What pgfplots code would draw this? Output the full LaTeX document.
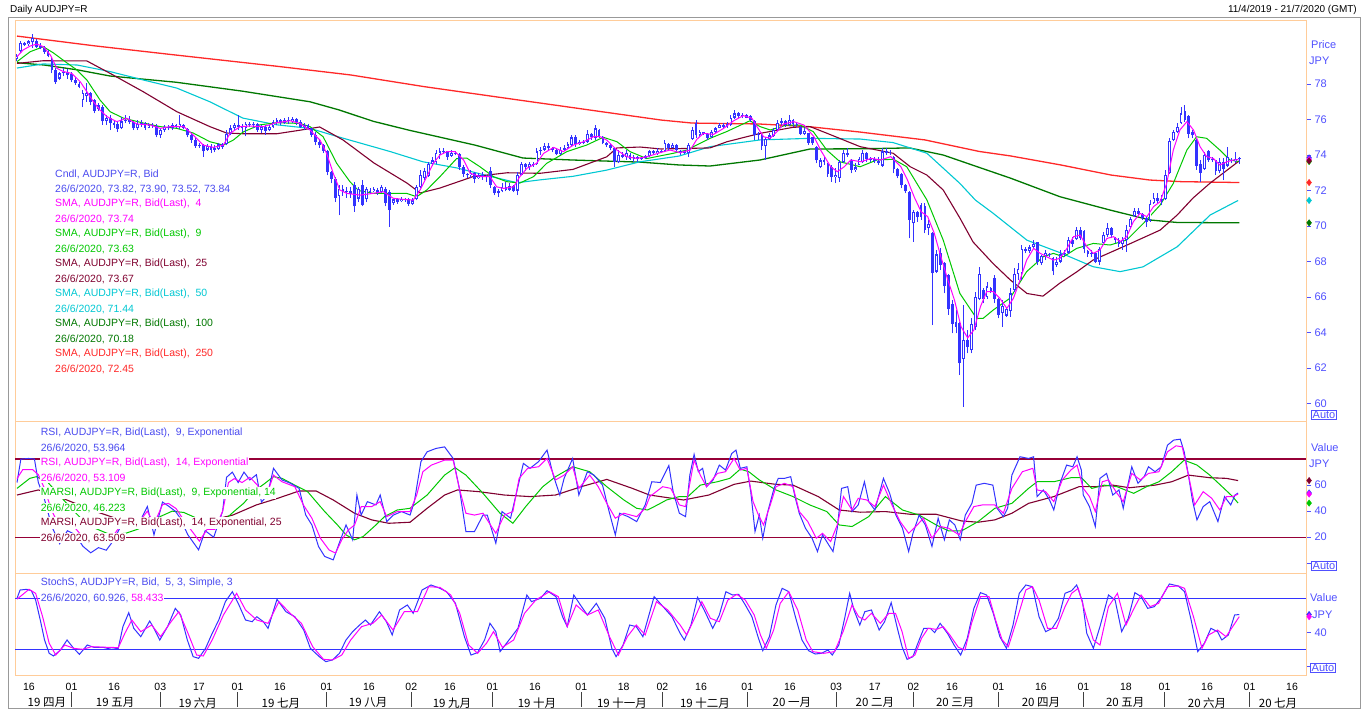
\documentclass[border=0pt]{standalone}
\usepackage{pgfplots}
\usepackage{pgfplotstable}
\pgfplotsset{compat=1.18}
\usepackage{fontspec}
\setmainfont{Liberation Sans}
\newfontfamily\cjk{Noto Sans CJK SC}
\definecolor{candle}{RGB}{51,51,255}
\definecolor{txtblue}{RGB}{75,75,240}
\definecolor{mag}{RGB}{255,0,255}
\definecolor{grn}{RGB}{0,200,0}
\definecolor{mar}{RGB}{128,0,48}
\definecolor{cyn}{RGB}{0,200,210}
\definecolor{dkg}{RGB}{0,120,0}
\definecolor{redd}{RGB}{255,40,40}
\definecolor{peach}{RGB}{255,204,153}
\definecolor{axblue}{RGB}{80,80,255}
\definecolor{rsiline}{RGB}{150,0,55}

\pgfplotstableread{
i o h l c
0 79.40 79.70 79.30 79.60
1 79.85 80.40 79.75 80.30
2 80.20 80.35 80.15 80.30
3 80.25 80.50 80.15 80.40
4 80.35 80.80 80.05 80.60
11 78.30 78.70 78.20 78.60
12 78.60 78.90 78.45 78.70
17 77.10 77.65 76.70 77.50
18 77.30 78.05 77.00 77.50
21 76.60 76.95 76.50 76.80
23 75.90 76.25 75.70 76.10
27 75.50 76.15 75.45 75.90
28 75.90 76.25 75.80 76.00
31 75.50 75.95 75.40 75.75
32 75.75 75.95 75.60 75.80
34 75.55 75.80 75.50 75.70
37 75.10 75.50 74.95 75.40
38 75.40 75.70 75.30 75.60
40 75.50 75.80 75.40 75.70
42 75.60 76.25 75.45 75.75
47 74.50 74.70 74.40 74.55
49 74.30 74.60 74.25 74.50
51 74.30 74.55 74.15 74.40
52 74.35 74.70 74.30 74.60
54 74.60 75.40 74.55 75.20
55 75.20 75.70 75.10 75.50
56 75.50 75.80 75.40 75.70
59 75.50 75.85 75.05 75.75
61 75.70 75.85 75.50 75.75
63 75.40 75.70 75.25 75.60
65 75.40 75.70 75.35 75.60
66 75.60 76.00 75.55 75.85
67 75.85 76.10 75.70 75.95
69 75.80 76.10 75.75 76.00
71 75.90 76.15 75.80 76.05
74 75.60 75.80 75.40 75.70
83 71.70 72.30 70.60 72.10
85 71.90 72.20 71.60 72.00
88 71.55 72.20 71.35 72.10
90 71.50 72.20 71.35 72.10
92 71.95 72.20 71.90 72.10
94 71.90 72.30 71.85 72.20
97 71.30 71.60 71.20 71.50
99 71.40 71.65 71.35 71.55
102 71.25 71.56 71.18 71.45
103 71.50 72.30 71.45 72.20
104 72.20 73.15 72.15 72.90
105 72.70 73.25 72.60 73.10
106 72.80 73.60 72.75 73.50
107 73.50 73.90 73.40 73.70
108 73.60 74.30 73.50 74.10
109 74.00 74.37 73.80 74.20
110 74.20 74.37 74.05 74.25
112 73.95 74.28 73.90 74.10
117 72.85 73.15 72.70 73.00
119 72.70 72.97 72.65 72.85
121 72.75 72.90 72.50 72.80
124 71.85 72.10 71.65 71.95
125 71.95 72.40 71.90 72.20
127 72.05 72.40 72.00 72.25
129 72.00 73.06 71.74 72.90
130 72.90 73.62 72.85 73.50
132 73.30 73.62 73.15 73.50
134 73.50 74.37 73.45 74.20
135 74.20 74.47 74.00 74.30
136 74.30 74.65 74.25 74.50
140 74.05 74.47 74.00 74.30
141 74.30 74.55 74.20 74.40
142 74.40 74.75 74.35 74.60
143 74.55 75.13 74.50 75.00
145 74.60 74.85 74.55 74.75
147 74.75 75.41 74.70 75.20
149 74.95 75.69 74.85 75.50
155 73.60 74.28 73.53 74.00
157 73.90 74.28 73.72 74.10
159 73.80 74.00 73.62 73.90
161 73.75 73.90 73.72 73.85
162 73.85 74.00 73.80 73.95
163 73.95 74.28 73.90 74.20
165 74.10 74.37 74.00 74.25
167 74.20 74.85 74.15 74.70
169 74.40 74.65 74.37 74.55
172 74.10 74.28 74.05 74.20
173 74.10 74.66 73.91 74.55
174 74.90 75.60 74.85 75.40
176 75.10 75.41 75.03 75.30
179 75.00 75.41 74.95 75.30
180 75.30 75.60 75.22 75.50
181 75.55 75.78 75.50 75.70
183 75.60 75.87 75.55 75.75
184 75.70 76.25 75.65 76.10
185 76.10 76.54 76.05 76.35
187 76.20 76.35 76.06 76.25
191 75.10 75.30 74.85 75.20
193 74.50 75.03 73.72 74.90
194 74.90 75.22 74.85 75.10
195 75.05 75.50 75.03 75.40
196 75.40 75.97 75.35 75.80
197 75.80 76.06 75.70 75.90
199 75.70 76.25 75.65 76.00
203 75.20 75.50 75.12 75.35
207 73.30 73.81 73.25 73.70
211 72.75 73.25 72.40 72.90
212 72.70 73.72 72.50 73.60
213 73.60 74.28 73.55 74.10
216 73.15 73.53 73.06 73.30
217 73.45 73.91 73.44 73.80
218 73.60 74.28 73.53 74.10
223 73.40 74.37 73.34 74.20
225 74.10 74.28 74.00 74.15
231 70.15 70.90 69.12 70.81
235 69.90 70.34 69.49 70.10
237 67.43 68.65 67.35 68.40
244 62.50 65.55 59.82 63.60
246 63.00 64.80 62.83 64.50
247 64.30 66.30 64.14 66.00
248 65.90 67.71 65.83 67.30
250 66.00 66.86 65.90 66.60
254 65.10 65.83 64.33 65.50
255 64.95 65.46 64.89 65.35
256 65.20 66.49 64.89 66.20
257 66.40 67.61 66.30 67.30
258 67.30 67.90 66.96 67.60
259 67.33 68.93 66.96 68.70
261 68.60 68.93 68.46 68.80
262 68.80 69.21 68.74 69.00
264 67.90 68.37 67.80 68.30
265 68.30 68.65 68.08 68.50
268 67.80 68.27 67.71 68.00
269 68.00 68.65 67.90 68.40
270 68.40 68.65 68.27 68.50
271 68.50 69.40 68.45 69.20
273 69.25 69.96 69.21 69.80
277 68.40 68.65 68.27 68.50
279 68.00 68.84 67.80 68.70
280 69.05 69.68 69.02 69.50
281 69.50 70.15 69.40 69.90
285 69.00 69.40 68.65 69.20
286 69.20 70.06 68.55 69.80
287 69.95 70.53 69.90 70.40
288 70.55 71.00 70.50 70.85
292 70.30 71.46 70.25 71.25
293 71.30 71.84 71.25 71.60
295 71.40 71.75 71.18 71.50
296 71.50 73.17 71.46 72.90
297 73.00 74.94 72.95 74.80
298 74.85 75.41 74.80 75.30
299 75.30 75.78 75.22 75.60
300 75.80 76.72 75.75 76.35
306 73.20 74.19 73.15 74.00
310 73.10 73.81 72.97 73.60
312 73.40 74.47 73.30 73.90
314 73.65 74.19 73.53 73.80
315 73.82 73.90 73.52 73.84
}\up

\pgfplotstableread{
i o h l c
5 80.45 80.55 80.05 80.10
6 80.15 80.30 79.95 80.05
7 80.05 80.15 79.70 79.80
8 79.85 79.90 79.50 79.60
9 79.35 79.45 78.60 78.80
10 78.80 78.90 78.00 78.10
13 78.70 78.85 78.30 78.50
14 78.55 78.65 78.10 78.20
15 78.20 78.40 77.95 78.05
16 78.00 78.10 77.75 77.85
19 77.50 77.55 76.80 77.00
20 77.10 77.15 76.35 76.50
22 76.70 76.80 75.70 75.90
24 76.10 76.25 75.40 75.80
25 75.80 75.95 75.55 75.70
26 75.75 75.85 75.30 75.45
29 76.00 76.20 75.75 75.85
30 75.85 75.90 75.40 75.50
33 75.80 75.85 75.40 75.55
35 75.70 75.80 75.55 75.65
36 75.65 75.75 75.00 75.10
39 75.60 75.70 75.40 75.50
41 75.70 75.75 75.50 75.60
43 75.70 75.75 75.45 75.55
44 75.45 75.50 75.00 75.10
45 75.10 75.25 74.70 74.85
46 74.85 75.00 74.40 74.50
48 74.55 74.60 73.90 74.20
50 74.50 74.60 74.10 74.30
53 74.60 74.70 74.35 74.45
57 75.70 76.25 75.40 75.60
58 75.60 75.75 75.30 75.50
60 75.75 75.85 75.60 75.70
62 75.75 75.80 75.30 75.40
64 75.60 75.70 75.15 75.35
68 75.95 76.05 75.70 75.80
70 76.00 76.15 75.75 75.90
72 76.05 76.10 75.70 75.85
73 75.85 75.95 75.50 75.60
75 75.70 75.75 75.40 75.50
76 75.50 75.55 75.00 75.10
77 75.10 75.30 74.55 74.75
78 74.75 74.85 74.40 74.55
79 74.55 74.60 74.10 74.25
80 74.20 74.30 72.85 73.05
81 73.05 73.10 72.40 72.65
82 72.65 72.75 71.35 71.60
84 72.10 72.30 71.70 71.90
86 72.00 72.20 71.60 71.80
87 72.30 72.50 70.80 71.10
89 72.30 72.60 71.10 71.20
91 72.00 72.12 71.80 71.90
93 72.05 72.12 71.75 71.85
95 72.10 72.20 71.10 71.30
96 71.90 72.05 69.95 70.90
98 71.50 71.60 71.25 71.35
100 71.55 71.60 71.35 71.45
101 71.50 71.56 71.15 71.25
111 74.20 74.25 73.72 73.90
113 74.10 74.20 74.00 74.05
114 74.05 74.10 73.15 73.30
115 73.35 73.45 72.78 72.95
116 72.95 73.00 72.68 72.85
118 73.00 73.05 72.40 72.65
120 72.85 73.06 72.60 72.75
122 73.10 73.34 72.12 72.30
123 72.20 72.25 71.74 71.85
126 72.20 72.50 71.95 72.05
128 72.25 72.30 71.90 72.00
131 73.50 73.55 73.10 73.30
133 73.50 73.62 73.35 73.45
137 74.50 74.65 74.25 74.40
138 74.40 74.47 74.15 74.30
139 74.30 74.37 74.00 74.05
144 75.00 75.13 74.47 74.60
146 74.75 74.85 74.60 74.70
148 75.20 75.25 74.85 75.00
150 75.40 75.45 74.95 75.05
151 75.00 75.05 74.60 74.70
152 74.70 74.75 74.45 74.55
153 74.55 74.60 74.28 74.40
154 74.40 74.47 73.34 73.60
156 74.00 74.19 73.81 73.90
158 74.00 74.09 73.72 73.80
160 73.90 73.95 73.62 73.75
164 74.20 74.28 74.00 74.10
166 74.25 74.28 74.09 74.15
168 74.60 74.65 74.28 74.40
170 74.55 74.60 74.19 74.30
171 74.20 74.28 74.00 74.10
175 75.80 75.97 74.95 75.10
177 75.30 75.32 75.12 75.20
178 75.20 75.22 74.85 74.95
182 75.70 75.78 75.55 75.60
186 76.35 76.45 76.06 76.20
188 76.25 76.30 76.06 76.10
189 76.20 76.25 75.87 75.95
190 75.90 75.95 74.85 75.10
192 75.15 75.22 74.28 74.50
198 75.90 75.97 75.60 75.70
200 76.00 76.05 75.60 75.75
201 75.75 75.87 75.60 75.70
202 75.60 75.65 75.12 75.20
204 75.22 75.25 74.56 74.70
205 75.00 75.03 74.56 74.65
206 74.45 74.50 73.53 73.70
208 73.70 73.91 73.44 73.60
209 73.50 73.53 72.78 72.95
210 73.35 73.44 72.50 72.75
214 74.10 74.37 73.91 74.00
215 73.70 73.75 72.97 73.15
219 74.10 74.19 73.62 73.80
220 73.80 73.91 73.62 73.75
221 73.75 73.91 73.53 73.65
222 73.65 73.91 73.44 73.55
224 74.20 74.37 74.00 74.10
226 73.90 73.95 72.97 73.20
227 73.20 73.25 72.68 72.80
228 72.95 73.00 72.12 72.30
229 72.30 72.35 71.84 71.95
230 71.94 72.00 69.31 70.34
232 70.80 70.85 70.24 70.50
233 71.20 71.28 70.34 70.50
234 71.10 71.28 69.59 69.80
236 69.59 69.68 64.42 67.33
238 68.50 68.74 67.52 67.80
239 67.90 67.95 66.21 66.60
240 67.24 67.30 64.99 65.30
241 65.60 65.83 63.95 64.50
242 64.60 65.27 63.95 64.30
243 64.52 64.60 61.60 62.26
245 63.60 64.14 62.83 63.20
249 66.40 66.49 65.64 65.90
251 66.50 66.55 66.21 66.30
252 67.10 67.24 65.64 65.90
253 65.90 65.93 64.80 65.00
260 68.70 68.84 68.46 68.60
263 69.10 69.12 67.80 68.00
266 68.45 68.50 68.27 68.35
267 68.18 68.25 67.24 67.45
272 69.20 69.40 68.84 69.00
274 69.80 69.96 69.21 69.30
275 69.70 69.77 68.46 68.70
276 68.60 68.65 68.27 68.40
278 68.50 68.55 67.90 68.00
282 69.90 69.96 69.30 69.50
283 69.35 69.40 69.02 69.20
284 69.20 69.30 68.84 69.00
289 70.85 71.00 70.62 70.70
290 70.70 70.72 70.34 70.45
291 70.45 70.53 69.96 70.20
294 71.60 71.84 71.28 71.40
301 76.50 76.82 75.88 76.00
302 76.20 76.25 74.94 75.20
303 75.30 75.41 74.94 75.10
304 74.85 74.90 73.17 73.40
305 73.50 73.72 72.50 73.00
307 74.20 74.28 73.62 73.70
308 73.80 73.91 73.62 73.70
309 73.70 73.72 72.87 73.10
311 73.60 73.81 72.59 73.20
313 73.70 73.81 73.53 73.65
}\dn

\tikzset{
 lg/.style={anchor=west, inner sep=0pt, font=\fontsize{10.5}{12}\selectfont},
 lgw/.style={anchor=west, inner sep=0.7pt, fill=white, font=\fontsize{10.5}{12}\selectfont},
 axt/.style={anchor=west, inner sep=0pt, text=axblue, font=\fontsize{11}{12}\selectfont},
 autob/.style={draw=axblue, line width=0.8pt, text=axblue, inner sep=1pt, font=\fontsize{11}{12}\selectfont}
}
\pgfplotsset{
 panel/.style={scale only axis, width=1291pt, xmin=-0.515, xmax=332.2,
  axis line style={peach, line width=1pt}, xtick=\empty,
  ytick pos=right, yticklabel pos=right, tick align=outside, major tick length=5pt,
  ytick style={draw=axblue, line width=0.9pt},
  yticklabel style={text=axblue, font=\fontsize{11}{12}\selectfont},
  /pgf/number format/assume math mode=true, clip=false},
 wick/.style={draw=none, mark=none, forget plot, error bars/.cd, y dir=plus, y explicit, error mark=none, error bar style={draw=candle, line width=1pt}},
 body/.style={draw=none, mark=none, forget plot, error bars/.cd, y dir=plus, y explicit, error mark=none, error bar style={draw=candle, line width=2.8pt}},
 hole/.style={draw=none, mark=none, forget plot, error bars/.cd, y dir=plus, y explicit, error mark=none, error bar style={draw=white, line width=1.0pt}}
}

\begin{document}
\begin{tikzpicture}[x=1pt,y=1pt]
\fill[white] (0,0) rectangle (1362,710);
\draw[black!40, line width=1pt] (8.5,2) rectangle (1360,692);
\node[anchor=west, inner sep=0pt, font=\fontsize{10}{12}\selectfont] at (10,700) {Daily AUDJPY=R};
\node[anchor=east, inner sep=0pt, font=\fontsize{10}{12}\selectfont] at (1357,700) {11/4/2019 - 21/7/2020 (GMT)};

% ---------------- price panel
\begin{axis}[panel, at={(15pt,288pt)}, anchor=south west, height=401pt,
  ymin=58.96, ymax=81.55, ytick={60,62,64,66,68,70,72,74,76,78},
  yticklabels={60,62,64,66,68,70,72,74,76,78}]
\addplot[color=redd, line width=1.3pt] coordinates {(0,80.7) (20,80.15) (41,79.63) (67,79.0) (86,78.51) (105,77.85) (126,77.2) (152,76.4) (166,75.97) (174,75.8) (191,75.75) (204,75.6) (217,75.3) (234,74.85) (248,74.2) (256,73.95) (269,73.44) (282,72.87) (292,72.59) (300,72.5) (315,72.45)};
\addplot[color=dkg, line width=1.3pt] coordinates {(0,79.2) (7,79.07) (15.5,78.8) (24,78.45) (41,78.1) (58,77.6) (75.5,77.0) (83,76.54) (91.8,75.9) (101,75.4) (118,74.56) (130.4,73.83) (143,73.72) (160.6,73.6) (170.6,73.44) (178.6,73.38) (191.5,73.72) (204.4,74.34) (217.3,74.35) (230,74.4) (238.7,74.0) (248,73.3) (256,72.7) (268.8,71.65) (281.7,70.9) (292,70.34) (299,70.2) (315,70.18)};
\addplot[color=cyn, line width=1.1pt] coordinates {(0,78.9) (6.7,79.13) (15.5,79.07) (24,78.7) (32.5,78.23) (41.2,77.77) (49.7,77.0) (58.2,76.08) (67,75.7) (75.5,75.5) (83.2,75.0) (96.1,74.2) (104.6,73.62) (113.4,73.27) (121.9,72.8) (128.9,72.44) (134.8,72.6) (143.3,72.8) (152,73.15) (160.6,73.62) (170.6,73.94) (178.6,74.47) (191.5,74.85) (204.4,74.94) (217.3,74.9) (225.8,74.7) (234.5,74.1) (243,72.4) (247,71.46) (251.5,70.73) (260.3,69.2) (268.8,68.5) (277.3,67.71) (284.3,67.43) (290.2,67.7) (299,68.83) (307.5,70.62) (314.7,71.44)};
\addplot[color=mar, line width=1.1pt] coordinates {(0,79.16) (6.7,79.31) (18,79.3) (24,78.6) (32.5,77.57) (41.2,76.44) (49.7,75.6) (54,75.24) (58.2,75.2) (67,75.2) (73,75.4) (78,75.58) (84,74.85) (85.8,74.56) (92,73.55) (100.5,72.42) (103.9,71.86) (109,72.14) (117.5,72.78) (126.3,73.0) (134.8,72.97) (143.3,73.19) (152,73.9) (154.6,74.4) (160.6,74.45) (166,74.34) (178.6,74.4) (183,74.75) (191.5,75.22) (200,75.56) (204.4,75.6) (208.8,75.22) (217.3,74.47) (225.8,74.1) (230.2,73.34) (234.5,72.87) (238.7,72.03) (243,70.45) (246.4,69.1) (251.5,67.9) (256,66.96) (260.3,66.2) (264.4,66.05) (268.8,66.79) (273.2,67.43) (277.3,68.08) (286.1,68.93) (294.6,69.77) (299,70.62) (303.1,71.58) (307.5,72.42) (315,73.67)};
\addplot[color=grn, line width=1pt] coordinates {(0,79.26) (3.4,79.82) (6.8,80.1) (9.4,79.75) (12.8,79.2) (15.4,78.8) (18,78.23) (21.4,77.1) (24,76.44) (27.4,76.08) (32.6,75.8) (36.9,75.6) (41.2,75.5) (45.4,75.24) (49.7,74.75) (53.2,74.56) (55.8,74.85) (58.3,75.3) (62.6,75.7) (66.9,75.82) (72.9,75.78) (75.5,75.6) (78.9,75.03) (82.4,73.53) (85.8,72.5) (88,72.0) (91.8,71.84) (100.4,71.84) (103,71.65) (105.6,72.03) (109,72.78) (113.3,73.8) (115.9,73.83) (119.3,73.34) (122.8,72.78) (126.2,72.5) (129.6,72.42) (133.1,72.78) (136.5,73.53) (141.7,74.19) (146.8,74.56) (151.1,75.0) (154.6,74.75) (158,74.19) (162.3,73.8) (169.2,74.1) (172.6,74.28) (178.6,74.94) (182.9,75.32) (188.9,75.93) (191.5,75.6) (194.1,75.41) (198.4,75.69) (201.8,75.69) (205.2,75.32) (208.7,74.28) (212.1,73.62) (217.3,73.34) (221.6,73.72) (225.9,73.76) (229.3,73.34) (234.5,71.47) (238.7,69.21) (243,66.2) (247.3,64.8) (249,64.8) (251.6,65.27) (255.9,65.93) (260.2,67.43) (264.5,68.27) (267.1,68.46) (269.7,68.27) (273.1,68.74) (277.4,69.02) (281.7,68.93) (286,69.21) (290.3,70.15) (294.6,71.18) (298,72.4) (301.5,74.28) (304,75.03) (306.6,74.94) (310,74.28) (312.6,73.72) (314.8,73.63)};
% candles
\addplot[wick] table[x=i, y=l, y error plus expr=\thisrow{h}-\thisrow{l}] {\up};
\addplot[wick] table[x=i, y=l, y error plus expr=\thisrow{h}-\thisrow{l}] {\dn};
\addplot[body] table[x=i, y=c, y error plus expr=\thisrow{o}-\thisrow{c}] {\dn};
\addplot[body] table[x=i, y=o, y error plus expr=\thisrow{c}-\thisrow{o}] {\up};
\addplot[hole] table[x=i, y expr=\thisrow{o}+0.07, y error plus expr={max(\thisrow{c}-\thisrow{o}-0.14,0)}] {\up};
\addplot[color=mag, line width=1pt] coordinates {(0,79.54) (1.6,79.92) (3.4,80.14) (5.1,80.25) (6.8,80.1) (8.6,79.63) (10.3,78.88) (12,78.7) (14.1,78.6) (16.3,78.13) (18,77.57) (19.7,77.0) (21.4,76.53) (23.2,76.16) (25.7,75.88) (28.3,76.07) (30.9,75.75) (34.4,75.69) (36.9,75.5) (39.5,75.6) (43,75.6) (45.4,75.13) (48,74.56) (50.6,74.43) (53.2,74.56) (54.9,75.22) (57.5,75.6) (60,75.63) (63.5,75.6) (66.9,75.82) (70.4,75.93) (72.9,75.78) (75.5,75.41) (78.1,74.84) (79.8,74.09) (81.5,72.97) (83.2,72.03) (85,71.84) (88.4,71.74) (91.8,71.84) (94.4,71.93) (97,71.56) (99.6,71.5) (102.1,71.46) (103.9,72.03) (105.6,72.78) (107.3,73.53) (109,74.0) (110.8,74.19) (112.9,74.19) (115.1,73.72) (116.8,72.97) (119.3,72.78) (121.9,72.78) (123.6,72.21) (125.4,72.12) (128,72.21) (129.6,72.78) (131.4,73.25) (133.9,73.53) (135.7,74.09) (138.3,74.43) (140.8,74.19) (143.4,74.56) (146,74.75) (148.6,75.03) (150.3,75.03) (152,74.84) (154.6,74.28) (157.2,73.9) (159.7,73.81) (162.3,73.9) (165.7,74.13) (168.3,74.28) (170.9,74.13) (173.5,74.28) (175.2,74.88) (176.9,75.22) (179.5,75.16) (182.1,75.5) (184.7,75.93) (187.2,76.22) (189.4,76.07) (190.7,75.6) (192.4,75.03) (194.1,74.94) (195.9,75.32) (197.6,75.75) (200.2,75.88) (202.8,75.69) (205.4,75.03) (207.1,74.28) (209.7,73.34) (211.4,73.06) (213.2,73.34) (214.9,73.72) (217.5,73.62) (220.1,73.81) (222.6,73.72) (225.2,73.91) (227.8,73.34) (229.5,72.59) (231.2,71.65) (233,70.81) (234.7,70.53) (236.4,69.59) (238.1,68.27) (239.9,66.96) (241.6,65.83) (243.3,64.33) (245,63.7) (246.6,64.14) (248.3,65.46) (249.9,66.3) (251.6,66.3) (253.3,65.93) (255.1,65.36) (256.8,65.93) (258.5,66.96) (260.2,68.08) (262,68.74) (263.7,68.46) (265.4,68.27) (267.1,68.08) (268.8,68.18) (270.6,68.74) (272.3,69.4) (274,69.49) (275.7,68.84) (277.4,68.46) (279.1,68.65) (280.9,69.3) (282.6,69.4) (284.3,69.12) (286,69.4) (287.7,70.24) (289.4,70.71) (291.2,70.53) (292.9,71.09) (294.6,71.37) (296.3,72.4) (298,74.28) (299.7,75.41) (301.5,75.88) (303.2,75.41) (304.9,74.47) (306.6,73.91) (308.3,73.81) (310,73.44) (311.8,73.62) (313.5,73.72) (314.8,73.74)};
\addplot[only marks, mark=diamond*, mark size=3.2pt, color=candle] coordinates {(333,73.84)};
\addplot[only marks, mark=diamond*, mark size=3.2pt, color=grn] coordinates {(333,73.63)};
\addplot[only marks, mark=diamond*, mark size=3.2pt, color=mag] coordinates {(333,73.74)};
\addplot[only marks, mark=diamond*, mark size=3.2pt, color=mar] coordinates {(333,73.67)};
\addplot[only marks, mark=diamond*, mark size=3.2pt, color=redd] coordinates {(333,72.45)};
\addplot[only marks, mark=diamond*, mark size=3.2pt, color=cyn] coordinates {(333,71.44)};
\addplot[only marks, mark=diamond*, mark size=3.2pt, color=dkg] coordinates {(333,70.18)};
\end{axis}

% ---------------- RSI panel
\begin{axis}[panel, at={(15pt,137pt)}, anchor=south west, height=151pt,
  ymin=-7.5, ymax=108.5, ytick={0,20,40,60}, yticklabels={,20,40,60}]
\addplot[color=rsiline, line width=1.2pt] coordinates {(-0.515,80) (332.2,80)};
\addplot[color=rsiline, line width=1.2pt] coordinates {(-0.515,20) (332.2,20)};
\addplot[color=mar, line width=1.1pt] coordinates {(0,52.4) (5.5,56.3) (10,52) (15,46) (20,40) (25,35) (30,33) (35,32) (40,33) (45,34) (50,33) (55.6,37) (61.7,44.8) (67.2,49.9) (72.7,55.5) (77.1,55.5) (81.5,48.6) (87,38.4) (91.4,33.3) (95.8,30.7) (101.3,31.5) (105.7,42.2) (110.2,52.4) (113.5,56.3) (119,55) (125.6,52.4) (132.2,51.2) (138.8,52.4) (145.4,58.8) (152,64.4) (158.6,57.5) (163,52.4) (171.8,48.6) (178.3,52.4) (184.8,60.6) (189.1,63.1) (195.6,60.6) (200,60) (206.5,51.2) (211.9,40.9) (217.3,39.2) (223.8,39.7) (230.3,37.6) (236.9,37.6) (243.4,32.5) (247.7,31.5) (252,33.3) (256.4,38.4) (260.7,46) (267.2,51.2) (273.7,58.8) (278,58.8) (282.4,60) (286.7,58) (293.3,60) (297.6,62.6) (301.9,67.7) (307.4,65.7) (311.7,65.2) (314.7,63.5)};
\addplot[color=grn, line width=1pt] coordinates {(0,57.5) (3.3,65.2) (5,66.5) (8,62) (11,52) (14,42) (17,33) (20,27) (24,22) (28,23) (31,26) (34,30) (37,36) (40,40) (43,39) (46,35) (50,30) (53,32) (56,40) (58.4,46) (61,55) (63.9,61.4) (66.1,66.5) (68.3,65.2) (71.6,60) (74.9,55) (77.1,47.3) (79.3,39.7) (82.6,29.4) (84.8,21.8) (87,18) (89.2,20.5) (92.5,29.4) (94.7,35.8) (98,40.9) (101.3,42.2) (105.7,52.4) (110.2,67.7) (112.9,73.4) (115.7,67.7) (120.1,53.7) (124.5,38.4) (127.8,30.7) (131.1,43.5) (135.5,58.8) (138.8,66.5) (143.2,74.1) (147.6,70.3) (152,58.8) (156.4,48.6) (159.7,42.2) (162.5,40.9) (165.2,45) (167.4,48.6) (170.7,51.2) (172.9,51.2) (176.1,60) (180.5,62.6) (183.7,65.2) (186.4,72.3) (188.6,70.3) (191.3,64) (195.6,56.3) (200,51.2) (204.3,44.8) (208.7,39.7) (211.9,29.4) (215.2,28.2) (219.5,35.8) (223.8,51.2) (228.2,40.9) (232.5,37) (236.9,29.4) (240.1,24.8) (243.4,24.8) (247.7,32) (252,42.2) (256.4,46) (260.7,57.5) (262.9,62.6) (267.2,62.6) (271.6,65.7) (274.3,65.7) (277,57.5) (280.2,60) (283.5,58.8) (287.8,53.7) (291.1,58.8) (294.3,62.6) (297.6,70.3) (300.8,79.2) (304.1,75.4) (307.4,67.7) (310.6,58.8) (313.3,51.2) (314.7,46.2)};
\addplot[color=candle, line width=1pt] coordinates {(0,62) (1,80) (3,80.5) (4.5,80) (5.5,62) (7,50) (9,28) (11,15) (13,25) (15,22) (17,13) (19,8) (21,12) (23,10) (25,18) (27,30) (29,32) (31,28) (33.6,43.5) (35.3,21.8) (37.5,47) (39,44) (40.8,40) (42,35) (44,22) (46.8,10.3) (48.5,25) (50.7,20) (53,40) (54,66) (55.5,70) (57,62) (58.5,70) (60,64) (61.7,68) (63,47) (64.5,52) (66.1,72.9) (68.3,64) (70.5,61.4) (72.7,57.5) (74.4,37.1) (76,29.4) (77.7,12.9) (79.3,5.2) (81.5,2.6) (83.2,16.7) (84.8,29.4) (86.5,18) (87.6,52.4) (88.7,37) (90.3,47.3) (92.5,44.8) (93.6,52.4) (95.3,32) (97,37) (99.1,39.7) (101.3,37) (102.4,47.3) (104.1,78) (105.7,85.6) (108,88.2) (110.2,89.4) (112.4,80.5) (114,57.5) (115.7,24.3) (117.9,24.3) (120.1,37) (121.2,37) (123.4,15.4) (125,39.7) (127.2,34.6) (128.9,56.3) (130.5,76.7) (132.2,72.9) (134.4,78) (136.6,86.9) (138.2,67.7) (139.9,52.4) (141,65.2) (143.2,80.5) (144.8,52.4) (147,70.3) (148.7,67.7) (150.9,60) (152.6,39.7) (154.2,21.8) (155.3,38.4) (157.5,35.8) (159.7,32) (161.9,44.8) (163.6,62.6) (165.8,62) (168,75) (169.1,55) (170.7,38.4) (172.3,35.8) (173.4,67.7) (174.5,83.6) (175.6,70.3) (176.7,72.9) (177.7,58.8) (179.4,64) (181,75.4) (182.6,71.6) (184.2,84.3) (185.3,86.9) (186.4,72.9) (188.1,74.1) (189.1,55) (190.2,24.3) (191.3,37) (192.2,19.2) (193.5,39.7) (195.1,57.5) (196.2,65.2) (197.8,65.2) (199.4,66.5) (200.5,51.2) (201.6,38.4) (203.2,26.9) (204.9,19.2) (206.3,9) (207.6,21.8) (209.2,14.1) (210.3,9) (211.4,26.9) (212.5,57.5) (214.1,58.8) (215.2,39.7) (216.8,44.8) (218.4,62.6) (219.5,47.3) (221.1,40.9) (223.3,65.2) (224.9,53.7) (226.5,37) (228.2,26.9) (229.8,9) (230.9,23) (232.5,37) (234.1,29.4) (235.8,12.9) (237.4,34.6) (239,18) (240.3,33.3) (241.7,29.4) (243.1,18) (244.4,37) (246.1,46) (247.2,60) (249.3,61.4) (251.5,60) (252.6,42.2) (254.2,35.8) (255.3,42.2) (256.4,67.7) (258.5,81.8) (260.7,80.5) (262,81.8) (262.9,51.2) (264.5,56.3) (266.1,48.6) (267.2,40.9) (268.8,61.4) (270.5,75.4) (272.1,74.1) (273.2,81.8) (274.3,71.6) (274.8,52.4) (276.4,43.5) (277.9,28.2) (279.1,65.2) (280.8,69) (282.4,52.4) (284,56.3) (285.1,42.2) (286.2,58.8) (287.3,74.1) (288.9,61.4) (290.5,66.5) (291.6,74.1) (293.3,70.3) (294.9,74.1) (296.5,90.7) (298.1,94.6) (299.8,95.3) (300.8,85.6) (301.9,67.7) (303,47.3) (304.1,33.3) (305.7,43.5) (307.4,47.3) (309.5,32) (311.2,51.2) (312.8,44.8) (313.9,52.4) (314.7,53.96)};
\addplot[color=mag, line width=1pt] coordinates {(0,65) (1.5,72) (4,72) (5.5,68) (7,58) (9,40) (11,28) (13,32) (15,27) (17,20) (19,16) (21,18) (23,16) (25,22) (27,30) (29,32) (31,30) (33.6,40) (35.3,30) (37.5,45) (39,46) (41,42) (43,33) (45,25) (47,17) (49,26) (51,26) (53,40) (54.5,62) (56,65) (58,62) (60,66) (62,60) (63.5,50) (65,58) (66.1,67.7) (68.3,62.6) (71.6,58.8) (73.8,44.8) (76,34.6) (78.2,19.2) (80.4,10.3) (82.1,7.8) (83.7,18) (85.4,25.6) (87,29.4) (88.7,43.5) (91.4,43.5) (93.6,47.3) (95.3,35.8) (98,39.7) (101.3,39.7) (103,52.4) (104.6,70.3) (106.8,75.4) (110.2,79.2) (112.4,79.2) (114,57.5) (115.7,38.4) (117.9,37) (120.1,38.4) (123.4,23) (125.6,37) (127.8,39.7) (129.4,65.2) (131.6,72.9) (134.4,74.1) (136.6,80.5) (138.8,64) (141,67.7) (143.2,74.1) (144.8,57.5) (147.6,67.7) (149.8,58.8) (152,46) (154.2,34.6) (156.4,38.4) (159.7,35.8) (161.9,42.2) (163.1,51.2) (166.4,58.8) (168.5,57.5) (170.7,44.8) (172.3,43.5) (174.5,79.2) (176.1,67.7) (177.7,58.8) (180.5,69) (182.6,70.3) (184.8,80.5) (186.4,71.6) (188.1,72.9) (189.7,47.3) (191.1,37) (192.4,29.4) (194,43.5) (195.6,58.8) (197.8,61.4) (200,58.8) (201.6,39.7) (203.8,32) (206,19.2) (207.6,23) (209.7,16.7) (211.4,29.4) (213,51.2) (215.2,40.9) (216.8,49.9) (219,48.6) (221.1,43.5) (223.3,60) (225.5,44.8) (227.6,32) (229.8,23) (232,29.4) (233.6,34.6) (235.8,19.2) (238,28.2) (240.1,26.9) (242.8,21.8) (244.4,32) (246.6,43.5) (248.8,44.8) (252,44.8) (254.2,38.4) (256.4,57.5) (259.1,70.3) (261.8,72.9) (262.9,56.3) (265.1,55) (267.2,47.3) (269.4,64) (271.6,71.6) (273.2,75.4) (274.8,57.5) (276.4,51.2) (277.9,39.7) (279.7,62.6) (281.3,64) (283.5,53.7) (285.1,47.3) (287.3,69) (289.5,64) (291.6,69) (294.3,70.3) (296.5,85.6) (298.7,90.2) (300.3,89.4) (301.9,67.7) (303.5,44.8) (305.7,55) (307.9,49.9) (310,40.9) (311.7,51.2) (313.3,51.2) (314.7,53.1)};
\addplot[only marks, mark=diamond*, mark size=3.2pt, color=candle] coordinates {(333,53.96)};
\addplot[only marks, mark=diamond*, mark size=3.2pt, color=mag] coordinates {(333,53.11)};
\addplot[only marks, mark=diamond*, mark size=3.2pt, color=grn] coordinates {(333,46.22)};
\addplot[only marks, mark=diamond*, mark size=3.2pt, color=mar] coordinates {(333,63.51)};
\end{axis}

% ---------------- Stochastic panel
\begin{axis}[panel, at={(15pt,35pt)}, anchor=south west, height=102pt,
  ymin=-10.2, ymax=109.8, ytick={0,40}, yticklabels={,40},
  xtick={3.09,14.05,25.0,36.93,46.88,56.83,67.78,79.74,90.7,101.62,111.57,122.53,133.48,145.44,156.37,166.34,176.29,188.2,199.2,211.13,221.08,231.03,240.98,252.94,263.89,274.85,285.8,295.75,306.7,317.65,328.6},
  xticklabels={16,01,16,03,17,01,16,01,16,02,16,01,16,01,18,02,16,01,16,03,17,02,16,01,16,01,18,01,16,01,16},
  xtick pos=left, xtick style={draw=none},
  xticklabel style={text=black, font=\fontsize{10.5}{12}\selectfont},
  extra x ticks={7.7,25.3,46.6,68,90.5,112.1,134,155.9,177.3,199.7,221.1,241.8,263.9,285.6,306.7,325},
  extra x tick labels={19 四月,19 五月,19 六月,19 七月,19 八月,19 九月,19 十月,19 十一月,19 十二月,20 一月,20 二月,20 三月,20 四月,20 五月,20 六月,20 七月},
  extra x tick style={xtick style={draw=none}, xticklabel style={yshift=-14pt, text=black, font=\cjk\fontsize{11.5}{13}\selectfont}}]
\addplot[color=candle, line width=1.2pt] coordinates {(-0.515,80) (332.2,80)};
\addplot[color=candle, line width=1.2pt] coordinates {(-0.515,20) (332.2,20)};
\addplot[color=candle, line width=1pt] coordinates {(0,80) (0.8,89.8) (2.5,90.6) (3.7,89) (4.8,78) (6,54.5) (7.1,31) (8.3,15.3) (9.4,12.2) (11.2,19.2) (12.9,31) (14.6,21.2) (16.1,14.1) (18.1,25.1) (19.8,22.4) (22.1,22.4) (24.4,20) (26.1,21.2) (27.3,46.7) (28.8,63.1) (30.1,44.7) (31.9,34.9) (34.2,53.3) (35.3,44.7) (36.8,31) (38.8,46.7) (40.8,68.2) (42.2,60.4) (43.9,31) (45.4,11.4) (46.8,9.4) (48.6,21.2) (50.3,38.8) (52,54.5) (53.7,76.1) (55.5,87.8) (57.2,72.2) (58.9,54.5) (60.6,52.5) (61.8,58.4) (63.5,52.5) (64.7,44.7) (67,78.8) (69.3,64.3) (71.6,58.4) (73.9,42.7) (75.6,21.2) (77.9,11.4) (79.6,5.5) (81.3,7.5) (83.1,15.3) (84.8,31) (86.5,40.8) (88.3,48.6) (89.8,54.5) (91.1,48.6) (93.4,64.3) (95.2,52.5) (96.7,36.9) (98.6,66.3) (100.6,72.2) (102.1,62.4) (104.4,89.8) (106.7,95.7) (109,91.8) (110.7,87.8) (113,74.1) (115.3,34.9) (117,13.3) (118.7,16.1) (120.5,31) (121.9,50.6) (123.4,40.8) (124.5,17.3) (126.8,31) (129.1,44.7) (131.4,83.9) (132.6,76.1) (134.9,80) (136.6,89) (138.9,82) (140.6,58.4) (141.8,46.7) (143.5,83.9) (145.2,72.2) (147,60.4) (149.3,74.1) (151.5,56.5) (153.3,21.2) (154.4,11.4) (156.2,25.1) (157.9,48.6) (159.6,46.7) (161.3,34.9) (164.2,82) (166.5,70.2) (168.8,58.4) (170.9,38.8) (172,31) (173.7,48.6) (175.4,81.2) (177.1,66.3) (179.3,44.7) (181,60.4) (182.7,87.8) (184.4,83.9) (186,84.7) (187.7,72.2) (189.4,58.4) (191.1,32.9) (192.2,18.4) (193.9,34.9) (195.6,72.2) (197.2,91.8) (198.9,87.8) (200.6,58.4) (202.3,31) (204,18.4) (205.7,14.5) (207.3,15.3) (209,19.2) (210.1,13.3) (211.8,25.1) (213.3,56.5) (214.6,85.9) (215.7,66.3) (217.2,48.6) (218.5,64.3) (220.2,66.3) (222.2,42.7) (223.6,52.5) (225.3,74.9) (227,42.7) (228.1,23.1) (229.4,8.2) (230.9,11.4) (232,25.1) (233.7,44.7) (235.4,44.7) (236.5,39.6) (237.9,50.6) (239.8,38.8) (241.5,25.1) (243.2,13.3) (244.9,32.9) (246.6,68.2) (248.3,86.7) (249.9,83.9) (251.6,62.4) (253.3,34.9) (255,21.2) (256.7,48.6) (258.3,85.9) (260,95.7) (261.7,93.7) (263.4,58.4) (265.1,40.8) (266.8,44.7) (268.4,56.5) (270.1,85.9) (271.8,89) (273.1,95.7) (274.6,76.1) (275.7,38.8) (277.4,21.2) (279.1,46.7) (281.3,83.9) (283,78) (284.7,40.8) (286.4,56.5) (288.1,86.7) (289.7,82) (291.4,68.2) (293.1,70.2) (294.8,80) (297,96.9) (299.3,94.5) (300.9,87.8) (302.6,54.5) (304.3,17.3) (306,27.1) (307.7,44.7) (309.4,40.8) (310.5,31) (312.2,36.9) (313.8,60.4) (315,60.93)};
\addplot[color=mag, line width=1pt] coordinates {(0,79) (3.1,90.6) (4.8,85.9) (6.6,58.4) (8.3,27.1) (10,13.3) (12.3,25.1) (14.6,21.2) (16.9,20) (19.2,23.1) (23.2,22.4) (26.1,22) (27.8,38.8) (29.6,54.5) (31.9,40.8) (34.7,48.6) (37,34.9) (39.4,50.6) (41.7,64.3) (43.9,40.8) (46.3,13.3) (48,12.2) (50.3,31) (53.2,60.4) (56.6,85.9) (58.9,66.3) (61.8,54.5) (64.7,50.6) (67.5,76.1) (70.4,62.4) (73.3,50.6) (76.2,23.1) (79,8.2) (81.3,7.5) (83.7,13.3) (86,31) (88.8,46.7) (91.7,50.6) (94,60.4) (96.9,42.7) (99.8,64.3) (103.2,64.3) (106.1,93.7) (109,92.9) (111.8,83.9) (114.1,62.4) (116.4,25.1) (118.7,15.3) (121,27.1) (122.8,40.8) (125.1,22.4) (128,31) (130.8,62.4) (133.7,78) (137.2,87.8) (139.5,82) (141.8,46.7) (144.1,72.2) (147,60.4) (149.8,66.3) (152.7,34.9) (155,13.3) (157.3,34.9) (159.6,48.6) (161.9,36.9) (164.8,76.1) (167.7,66.3) (170.9,48.6) (172.6,36.9) (174.8,58.4) (176.5,76.1) (178.7,56.5) (181,52.5) (183.2,78) (185.5,84.7) (187.7,78) (190,60.4) (191.6,36.9) (193.1,21.2) (195,42.7) (196.7,74.1) (198.9,87.8) (201.2,66.3) (203.4,31) (205.1,17.3) (207.9,15.3) (210.7,17.3) (212.9,40.8) (215.2,72.2) (216.9,58.4) (218.5,54.5) (220.2,62.4) (222.5,50.6) (224.7,62.4) (226.4,62.4) (228.1,40.8) (229.8,9.4) (231.4,13.3) (233.1,32.9) (234.8,44.7) (237,43.5) (238.7,46.7) (240.4,36.9) (242.6,22.4) (244.3,19.2) (246,50.6) (248.3,82) (250.5,82) (252.2,54.5) (253.9,31) (255.5,23.1) (257.8,56.5) (260,89.8) (261.7,93.7) (263.4,78) (265.6,44.7) (267.9,44.7) (270.1,70.2) (271.8,85.9) (273.5,91.8) (275.7,56.5) (277.4,31) (279.1,25.1) (281.3,70.2) (283.6,85.9) (285.8,48.6) (288.1,70.2) (289.7,83.9) (292,70.2) (294.2,74.1) (296.5,93.7) (299.3,94.5) (300.9,91.8) (303.2,58.4) (305.4,21.2) (307.1,36.9) (309.4,42.7) (311.6,34.9) (313.3,46.7) (315,58.43)};
\pgfplotsinvokeforeach{14.05,36.93,56.83,79.74,101.62,122.53,145.44,166.34,188.2,211.13,231.03,252.94,274.85,295.75,317.65}{
  \draw[black!75, line width=1pt] (axis cs:#1,-10.2) ++(0pt,-17pt) -- ++(0pt,-15pt);
}
\end{axis}

% right side labels
\node[axt] at (1311,665) {Price};
\node[axt] at (1309,649) {JPY};
\node[autob] at (1324,295) {Auto};
\node[axt] at (1311,262) {Value};
\node[axt] at (1309,246) {JPY};
\node[autob] at (1324,144) {Auto};
\node[axt] at (1310,112) {Value};
\node[axt] at (1312,95) {JPY};
\node[autob] at (1323,42) {Auto};
% stoch right diamonds drawn on top of JPY label
\begin{axis}[panel, at={(15pt,35pt)}, anchor=south west, height=102pt,
  ymin=-10.2, ymax=109.8, ytick=\empty, axis line style={draw=none}]
\addplot[only marks, mark=diamond*, mark size=3.2pt, color=candle] coordinates {(333,60.93)};
\addplot[only marks, mark=diamond*, mark size=3.2pt, color=mag] coordinates {(333,58.43)};
\end{axis}

% price legend
\node[lg, text=txtblue] at (55,536) {Cndl, AUDJPY=R, Bid};
\node[lg, text=txtblue] at (55,521) {26/6/2020, 73.82, 73.90, 73.52, 73.84};
\node[lg, text=mag] at (55,506) {SMA, AUDJPY=R, Bid(Last),\ \ 4};
\node[lg, text=mag] at (55,491) {26/6/2020, 73.74};
\node[lg, text=grn] at (55,476) {SMA, AUDJPY=R, Bid(Last),\ \ 9};
\node[lg, text=grn] at (55,461) {26/6/2020, 73.63};
\node[lg, text=mar] at (55,446) {SMA, AUDJPY=R, Bid(Last),\ \ 25};
\node[lg, text=mar] at (55,431) {26/6/2020, 73.67};
\node[lg, text=cyn] at (55,416) {SMA, AUDJPY=R, Bid(Last),\ \ 50};
\node[lg, text=cyn] at (55,401) {26/6/2020, 71.44};
\node[lg, text=dkg] at (55,386) {SMA, AUDJPY=R, Bid(Last),\ \ 100};
\node[lg, text=dkg] at (55,371) {26/6/2020, 70.18};
\node[lg, text=redd] at (55,356) {SMA, AUDJPY=R, Bid(Last),\ \ 250};
\node[lg, text=redd] at (55,341) {26/6/2020, 72.45};
% RSI legend
\node[lgw, text=txtblue] at (40,277) {RSI, AUDJPY=R, Bid(Last),\ \ 9, Exponential};
\node[lgw, text=txtblue] at (40,262) {26/6/2020, 53.964};
\node[lgw, text=mag] at (40,247) {RSI, AUDJPY=R, Bid(Last),\ \ 14, Exponential};
\node[lgw, text=mag] at (40,232) {26/6/2020, 53.109};
\node[lgw, text=grn] at (40,217) {MARSI, AUDJPY=R, Bid(Last),\ \ 9, Exponential, 14};
\node[lgw, text=grn] at (40,202) {26/6/2020, 46.223};
\node[lgw, text=mar] at (40,187) {MARSI, AUDJPY=R, Bid(Last),\ \ 14, Exponential, 25};
\node[lgw, text=mar] at (40,172) {26/6/2020, 63.509};
% Stoch legend
\node[lgw, text=txtblue] at (40,127) {StochS, AUDJPY=R, Bid,\ \ 5, 3, Simple, 3};
\node[lgw, text=txtblue] at (40,112) {26/6/2020, 60.926, \textcolor{mag}{58.433}};
\pgfresetboundingbox
\path[use as bounding box] (0,0) rectangle (1362,710);
\end{tikzpicture}
\end{document}
